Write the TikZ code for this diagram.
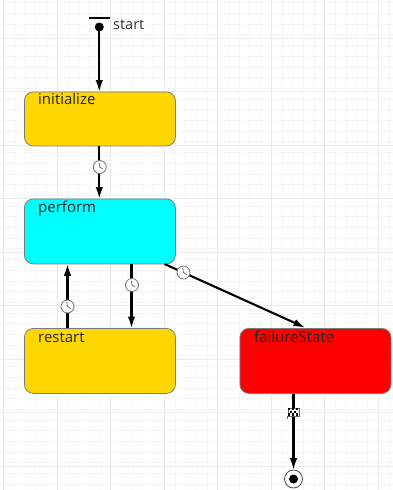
\documentclass[tikz,border=0pt]{standalone}
\usepackage{fontspec}
\setmainfont{Open Sans}
\usetikzlibrary{arrows.meta}
\definecolor{gridminor}{HTML}{F6F6F6}
\definecolor{gridmajor}{HTML}{EBEBEB}
\definecolor{statedge}{HTML}{7A7A7A}
\definecolor{stategold}{RGB}{255,215,0}
\definecolor{statecyan}{RGB}{0,255,255}
\definecolor{statered}{RGB}{255,0,0}
\tikzset{
  statebox/.style={draw=statedge,line width=0.8pt,rounded corners=9pt,minimum width=151pt,anchor=north west,inner sep=0pt},
  statelabel/.style={anchor=base west,inner sep=0pt,font=\fontsize{15}{16}\selectfont,text=black!85},
  conn/.style={draw=black,line width=2.1pt,-{Latex[length=12pt,width=7.5pt]},shorten >=-0.5pt},
  clockface/.style={circle,draw=black!55,fill=white,line width=0.8pt,minimum size=13pt,inner sep=0pt},
}
\newcommand{\clockat}[2]{%
  \node[clockface] (#1) at (#2) {};
  \draw[black!60,line width=0.7pt] (#1.center) ++(-0.8,-4.5) -- (#1.center) -- ++(3.2,2);
}
\begin{document}
\begin{tikzpicture}[x=1pt,y=-1pt]
\useasboundingbox (0,0) rectangle (393,490);
\fill[white] (0,0) rectangle (393,490);
% grid
\foreach \i in {0,...,36}{
  \draw[gridminor,line width=0.7pt] ({3.7+10.7*\i},0) -- ({3.7+10.7*\i},490);
}
\foreach \i in {0,...,45}{
  \draw[gridminor,line width=0.7pt] (0,{2.7+10.7*\i}) -- (393,{2.7+10.7*\i});
}
\foreach \i in {0,...,7}{
  \draw[gridmajor,line width=0.8pt] ({3.7+53.5*\i},0) -- ({3.7+53.5*\i},490);
}
\foreach \i in {0,...,8}{
  \draw[gridmajor,line width=0.8pt] (0,{38+53.5*\i}) -- (393,{38+53.5*\i});
}
% states
\node[statebox,fill=stategold,minimum height=54pt] (initialize) at (24,91.5) {};
\node[statebox,fill=statecyan,minimum height=65pt] (perform) at (24,198.5) {};
\node[statebox,fill=stategold,minimum height=65pt] (restart) at (24,328) {};
\node[statebox,fill=statered,minimum height=65pt,minimum width=151pt] (failure) at (239.5,328) {};
\node[statelabel] (tinit) at (38,104.5) {initialize};
\node[statelabel] (tperf) at (38,212.5) {perform};
\node[statelabel] (trest) at (38,342) {restart};
\node[statelabel] (tfail) at (254,342) {failureState};
% start
\node[circle,fill=black,minimum size=9pt,inner sep=0pt] (startdot) at (99.3,27) {};
\coordinate (barl) at (88.5,18);
\coordinate (barr) at (110,18);
\draw[black,line width=2.2pt] (barl) -- (barr);
\node[anchor=base west,inner sep=0pt,font=\fontsize{14.5}{15}\selectfont,text=black!80] (tstart) at (113,29.5) {start};
% end
\node[circle,draw=black!70,fill=white,line width=0.8pt,minimum size=18pt,inner sep=0pt] (endring) at (293.5,479) {};
\node[circle,fill=black,minimum size=9pt,inner sep=0pt] (enddot) at (293.5,479) {};
% connectors
\draw[conn] (startdot.center) -- (initialize.north -| startdot.center);
\draw[conn] (initialize.south -| startdot.center) -- (perform.north -| startdot.center);
\coordinate (upx) at (67.5,300);
\coordinate (downx) at (131.5,300);
\draw[conn] (restart.north -| upx) -- (perform.south -| upx);
\draw[conn] (perform.south -| downx) -- (restart.north -| downx);
\coordinate (failstart) at (164.5,264);
\coordinate (failend) at (305,327.5);
\draw[conn] (failstart) -- (failend);
\draw[conn] (failure.south -| endring) -- (endring.north);
% clocks
\clockat{c1}{99.8,167}
\clockat{c2}{132,285}
\clockat{c3}{67.5,306.5}
\clockat{c4}{183.5,272.5}
% flag
\node[draw=black!60,fill=white,line width=0.6pt,minimum width=11pt,minimum height=8pt,inner sep=0pt] (flag) at (293.5,412) {};
\draw[black!60,line width=0.7pt] (flag.south west) -- ++(0,3);
\foreach \a/\b in {0/0,4/0,8/0,2/2.7,6/2.7,0/5.4,4/5.4,8/5.4}{
  \fill[black] ([xshift=\a pt+0.5pt,yshift=-\b pt-0.3pt]flag.north west) rectangle ++(2,2.3);
}
\end{tikzpicture}
\end{document}
